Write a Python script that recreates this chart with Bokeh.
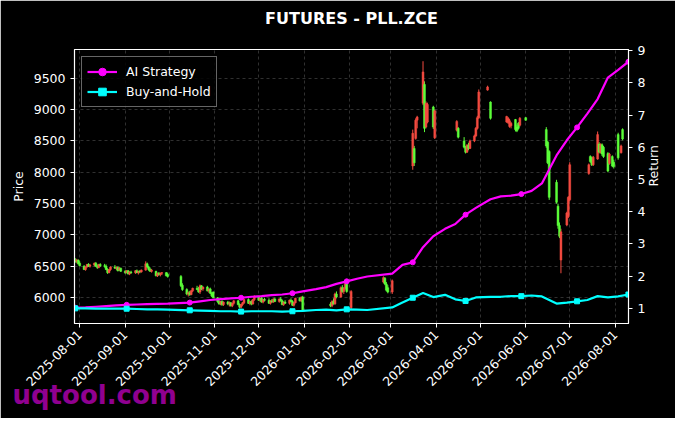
from math import pi

import numpy as np
import pandas as pd
from bokeh.plotting import figure
from bokeh.models import (Range1d, LinearAxis, SingleIntervalTicker, MonthsTicker,
                          DatetimeTickFormatter, Legend, LegendItem, Title, ColumnDataSource)
from bokeh.embed import file_html
from bokeh.resources import INLINE

title = "FUTURES - PLL.ZCE"
watermark = "uqtool.com"

# exchange calendar: weekdays minus holidays
first_day, last_day = "2025-07-29", "2026-08-10"
holidays = ["2025-10-01", "2025-10-02", "2025-10-03", "2025-10-06", "2025-10-07", "2025-10-08",
            "2026-01-01", "2026-01-02",
            "2026-02-16", "2026-02-17", "2026-02-18", "2026-02-19", "2026-02-20", "2026-02-23",
            "2026-04-06", "2026-05-01", "2026-05-04", "2026-05-05", "2026-06-19"]

# periods where the contract has bars (None = no bar that day)
bar_periods = [("2025-07-29", "2025-09-30"), ("2025-10-09", "2025-12-31"),
               ("2026-01-19", "2026-02-02"), ("2026-02-24", "2026-03-02"),
               ("2026-03-16", "2026-03-31"), ("2026-04-15", "2026-05-08"),
               ("2026-05-19", "2026-06-01"), ("2026-06-15", "2026-07-01"),
               ("2026-07-14", "2026-08-06")]

opens = [
    6600, 6580, 6600, 6550, 6500, 6450, 6490, 6530, 6500, 6520, 6550, 6500, 6480, 6530,
    6510, 6500, 6450, 6400, 6450, 6490, 6470, 6480, 6440, 6470, 6420, 6400, 6430, 6380, 6410,
    6400, 6430, 6400, 6420, 6410, 6440, 6540, 6490, 6450, 6420, 6420, 6350, 6390, 6370, 6390,
    6400, 6370,
    6340, 6200, 6130, 6060, 6080, 6050, 6110, 6150, 6130, 6090, 6190, 6140, 6170, 6110, 6140,
    6070, 6090, 6000, 5940, 5900, 5940, 5890, 5930, 5900, 5920, 5870, 5910, 5950, 5890, 5850,
    5890, 5920, 5970, 5910, 5940, 5900, 5970, 6020, 5960, 5990, 5930, 5970, 5960, 5910, 5950,
    5930, 5980, 5940, 5980, 5950, 5890, 5930, 5910, 5960, 5940, 5880, 5920, 5990, 5950, 6010,
    5900, 5870, 5940, 5900, 6060, 6010, 6160, 6100, 6150, 6230, 5840,
    6250, 6310, 6220, 6160, 6090,
    8100, 8380, 8540, 8830, None, 9100, 9400, 8720, 8800, None, 9040, 8550,
    8670, 8700, None, 8500, 8400, 8320, 8430, 8380, 8500, 8580, 8700, 8870, 9310, None, 9120,
    8800, 8790, 8730, 8740, 8840, 8720, 8780, 8750, None, 8870,
    8680, 8480, 8330, None, 7840, 7460, 7150, 6600, None, 7160, 7290, 7560,
    7980, 8250, 8230, 8120, 8210, 8450, 8320, 8440, 8400, 8300, 8140, None, 8250, 8160, 8600,
    None, 8310, 8680,
]
highs = [
    6630, 6620, 6610, 6580, 6520, 6500, 6540, 6550, 6540, 6560, 6570, 6530, 6540, 6550,
    6540, 6530, 6470, 6460, 6500, 6520, 6500, 6500, 6490, 6480, 6440, 6440, 6440, 6420, 6430,
    6440, 6450, 6430, 6440, 6450, 6580, 6560, 6510, 6480, 6460, 6430, 6400, 6410, 6400, 6410,
    6410, 6400,
    6360, 6230, 6150, 6100, 6110, 6120, 6160, 6190, 6170, 6210, 6200, 6180, 6190, 6150, 6160,
    6090, 6100, 6010, 5970, 5950, 5960, 5940, 5950, 5940, 5930, 5920, 5960, 5970, 5910, 5900,
    5930, 5990, 5990, 5950, 5960, 5980, 6040, 6030, 6000, 6010, 5980, 6000, 5990, 5960, 5980,
    5990, 6000, 5990, 6010, 5970, 5940, 5960, 5970, 5990, 5960, 5930, 6000, 6010, 6020, 6030,
    5930, 5960, 5990, 6080, 6100, 6180, 6200, 6170, 6260, 6250, 6120,
    6340, 6330, 6250, 6200, 6290,
    8680, 8420, 8860, 8900, None, 9770, 9450, 9130, 9110, None, 9060, 9000,
    8830, 8720, None, 8560, 8420, 8450, 8470, 8520, 8600, 8720, 8900, 9320, 9380, None, 9130,
    8900, 8880, 8850, 8800, 8850, 8760, 8800, 8880, None, 8880,
    8720, 8500, 8350, None, 7880, 7500, 7200, 7100, None, 7370, 7620, 8160,
    8140, 8270, 8250, 8260, 8650, 8480, 8460, 8460, 8420, 8320, 8310, None, 8270, 8200, 8630,
    None, 8440, 8700,
]
lows = [
    6560, 6550, 6530, 6500, 6440, 6430, 6480, 6490, 6480, 6500, 6490, 6460, 6470, 6490,
    6480, 6440, 6380, 6390, 6430, 6460, 6440, 6420, 6430, 6410, 6380, 6390, 6370, 6360, 6380,
    6380, 6390, 6370, 6390, 6400, 6430, 6470, 6430, 6410, 6400, 6340, 6330, 6350, 6340, 6360,
    6340, 6320,
    6170, 6110, 6040, 6020, 6030, 6040, 6090, 6120, 6080, 6060, 6120, 6110, 6100, 6080, 6060,
    6010, 5990, 5920, 5890, 5880, 5870, 5870, 5880, 5860, 5860, 5850, 5890, 5880, 5830, 5830,
    5870, 5900, 5900, 5880, 5880, 5890, 5950, 5950, 5930, 5920, 5910, 5940, 5900, 5890, 5920,
    5920, 5930, 5920, 5940, 5880, 5870, 5900, 5890, 5930, 5870, 5860, 5910, 5940, 5930, 5780,
    5850, 5850, 5890, 5890, 5990, 6000, 6080, 6060, 6130, 6080, 5820,
    6230, 6200, 6100, 6070, 6060,
    8040, 8100, 8520, 8700, None, 9070, 8640, 8700, 8780, None, 8690, 8530,
    8650, 8540, None, 8380, 8300, 8310, 8350, 8370, 8480, 8560, 8680, 8850, 9300, None, 8840,
    8790, 8770, 8710, 8700, 8650, 8640, 8680, 8730, None, 8820,
    8390, 8130, 7560, None, 7500, 7100, 6950, 6390, None, 7140, 7270, 7540,
    7960, 8150, 8100, 8100, 8200, 8300, 8300, 8260, 8230, 8000, 8120, None, 8080, 8060, 8200,
    None, 8300, 8510,
]
closes = [
    6570, 6600, 6540, 6510, 6450, 6490, 6530, 6500, 6520, 6550, 6500, 6480, 6530, 6510,
    6500, 6450, 6400, 6450, 6490, 6470, 6480, 6430, 6470, 6420, 6400, 6430, 6380, 6410, 6400,
    6430, 6400, 6420, 6410, 6440, 6540, 6490, 6450, 6420, 6440, 6350, 6390, 6370, 6390, 6400,
    6350, 6340,
    6190, 6130, 6060, 6080, 6050, 6110, 6150, 6130, 6090, 6190, 6140, 6170, 6110, 6140, 6070,
    6030, 6000, 5940, 5900, 5940, 5890, 5930, 5900, 5920, 5870, 5910, 5950, 5890, 5850, 5890,
    5920, 5970, 5910, 5940, 5900, 5970, 6020, 5960, 5990, 5930, 5970, 5960, 5910, 5950, 5930,
    5980, 5940, 5980, 5950, 5890, 5930, 5910, 5960, 5940, 5880, 5920, 5990, 5950, 6010, 5800,
    5870, 5940, 5900, 6060, 6010, 6160, 6100, 6150, 6230, 6100, 6100,
    6320, 6220, 6120, 6090, 6270,
    8620, 8150, 8830, 8880, None, 9600, 8700, 9100, 9080, None, 8720, 8980,
    8810, 8560, None, 8400, 8320, 8430, 8380, 8500, 8580, 8700, 8870, 9280, 9360, None, 8860,
    8890, 8860, 8820, 8780, 8680, 8660, 8700, 8860, None, 8830,
    8420, 8150, 7600, None, 7520, 7150, 6980, 7050, None, 7350, 7600, 8120,
    8120, 8170, 8120, 8240, 8600, 8320, 8440, 8290, 8250, 8020, 8290, None, 8100, 8090, 8230,
    None, 8420, 8530,
]

# equity curves, sampled every 5th trading day
ai_ret = [1.02, 1.03, 1.05, 1.07, 1.09, 1.11, 1.12, 1.13, 1.14, 1.15,
          1.18, 1.22, 1.26, 1.29, 1.31, 1.33, 1.36, 1.38, 1.41, 1.43,
          1.47, 1.53, 1.60, 1.66, 1.76, 1.84, 1.92, 1.99, 2.08, 2.35,
          2.43, 2.90, 3.24, 3.47, 3.62, 3.91, 4.12, 4.39, 4.48, 4.50,
          4.55, 4.65, 4.88, 5.75, 6.22, 6.62, 7.05, 7.50, 8.17, 8.41,
          8.66]
bh_ret = [1.00, 1.00, 0.99, 0.99, 0.99, 0.99, 0.98, 0.97, 0.97, 0.96,
          0.94, 0.93, 0.92, 0.91, 0.91, 0.90, 0.91, 0.91, 0.91, 0.90,
          0.91, 0.92, 0.95, 0.96, 0.94, 0.97, 0.96, 0.95, 1.03, 1.18,
          1.33, 1.48, 1.35, 1.42, 1.28, 1.23, 1.34, 1.36, 1.36, 1.38,
          1.38, 1.40, 1.37, 1.15, 1.18, 1.22, 1.26, 1.38, 1.34, 1.37,
          1.43]

trade_days = pd.bdate_range(first_day, last_day)
trade_days = trade_days[~trade_days.isin(pd.to_datetime(holidays))]
in_bars = np.zeros(len(trade_days), dtype=bool)
for a, b in bar_periods:
    in_bars |= (trade_days >= a) & (trade_days <= b)
bar_days = trade_days[in_bars]
line_days = trade_days[::5]

o = np.array(opens, dtype=float)
h = np.array(highs, dtype=float)
l = np.array(lows, dtype=float)
c = np.array(closes, dtype=float)
colors = np.where(c >= o, "#f44b40", "#5cff3a")

src = ColumnDataSource(dict(day=bar_days, high=h, low=l, top=np.maximum(o, c),
                            bottom=np.minimum(o, c), color=colors))

p = figure(width=675, height=418, x_axis_type="datetime",
           x_range=Range1d(pd.Timestamp("2025-07-28 11:00"), pd.Timestamp("2026-08-10 01:00")),
           y_range=Range1d(5589, 9957),
           output_backend="svg", toolbar_location=None,
           background_fill_color="black", border_fill_color="black",
           min_border_left=74, min_border_right=47, min_border_top=49, min_border_bottom=95)
p.extra_y_ranges = {"ret": Range1d(0.53, 9.04)}

# blank panel between frame and title, lifts the title toward the top edge
p.add_layout(Title(text=" ", text_font_size="2px", standoff=16), "above")

p.title.text = title
p.title.align = "center"
p.title.text_color = "white"
p.title.text_font = "DejaVu Sans"
p.title.text_font_size = "16px"
p.title.text_font_style = "bold"
p.title.standoff = 4

p.outline_line_color = "white"
p.outline_line_width = 1.2

p.xgrid.ticker = MonthsTicker(months=list(range(1, 13)))
p.grid.grid_line_color = "#777777"
p.grid.grid_line_alpha = 0.5
p.grid.grid_line_dash = "3 3"
p.grid.grid_line_width = 0.8

xa = p.xaxis[0]
xa.ticker = MonthsTicker(months=list(range(1, 13)))
xa.formatter = DatetimeTickFormatter(days="%Y-%m-%d", months="%Y-%m-%d", years="%Y-%m-%d")
xa.major_label_orientation = pi / 4

ya = p.yaxis[0]
ya.ticker = SingleIntervalTicker(interval=500)
ya.axis_label = "Price"

ra = LinearAxis(y_range_name="ret", axis_label="Return", ticker=SingleIntervalTicker(interval=1))
p.add_layout(ra, "right")

for ax in (xa, ya, ra):
    ax.axis_line_color = "white"
    ax.major_tick_line_color = "white"
    ax.minor_tick_line_color = None
    ax.major_tick_in = 0
    ax.major_tick_out = 4
    ax.major_label_text_color = "white"
    ax.major_label_text_font = "DejaVu Sans"
    ax.major_label_text_font_size = "12.5px"
    ax.axis_label_text_color = "white"
    ax.axis_label_text_font = "DejaVu Sans"
    ax.axis_label_text_font_size = "12.5px"
    ax.axis_label_text_font_style = "normal"
ra.axis_label_orientation = pi / 2

# candles
p.segment(x0="day", y0="low", x1="day", y1="high", line_color="color", line_width=1, source=src)
p.vbar(x="day", width=1.3 * 86400000, top="top", bottom="bottom",
       fill_color="color", line_color="color", line_width=0.5, source=src)

# equity curves
ai = p.line(line_days, ai_ret, y_range_name="ret", line_color="#ff00ff", line_width=2.2)
ai_m = p.scatter(line_days[::5], ai_ret[::5], y_range_name="ret", marker="circle",
                 size=5, color="#ff00ff")
bh = p.line(line_days, bh_ret, y_range_name="ret", line_color="#00ffff", line_width=2.2)
bh_m = p.scatter(line_days[::5], bh_ret[::5], y_range_name="ret", marker="square",
                 size=5, color="#00ffff")

legend = Legend(items=[LegendItem(label="AI Strategy", renderers=[ai, ai_m]),
                       LegendItem(label="Buy-and-Hold", renderers=[bh, bh_m])],
                location="top_left", margin=7, padding=5, spacing=1,
                label_height=19, glyph_height=19, glyph_width=30, label_standoff=9,
                background_fill_color="black", background_fill_alpha=0.85,
                border_line_color="#cccccc", border_line_width=1,
                label_text_color="white", label_text_font="DejaVu Sans",
                label_text_font_size="12.5px")
p.add_layout(legend)

# site watermark, tucked up against the date labels
p.add_layout(Title(text=watermark, align="left", vertical_align="top", offset=-62, standoff=-28,
                   text_color="#900090", text_font="DejaVu Sans", text_font_size="26px",
                   text_font_style="bold"), "below")

open("out.html", "w").write(file_html(p, INLINE))
